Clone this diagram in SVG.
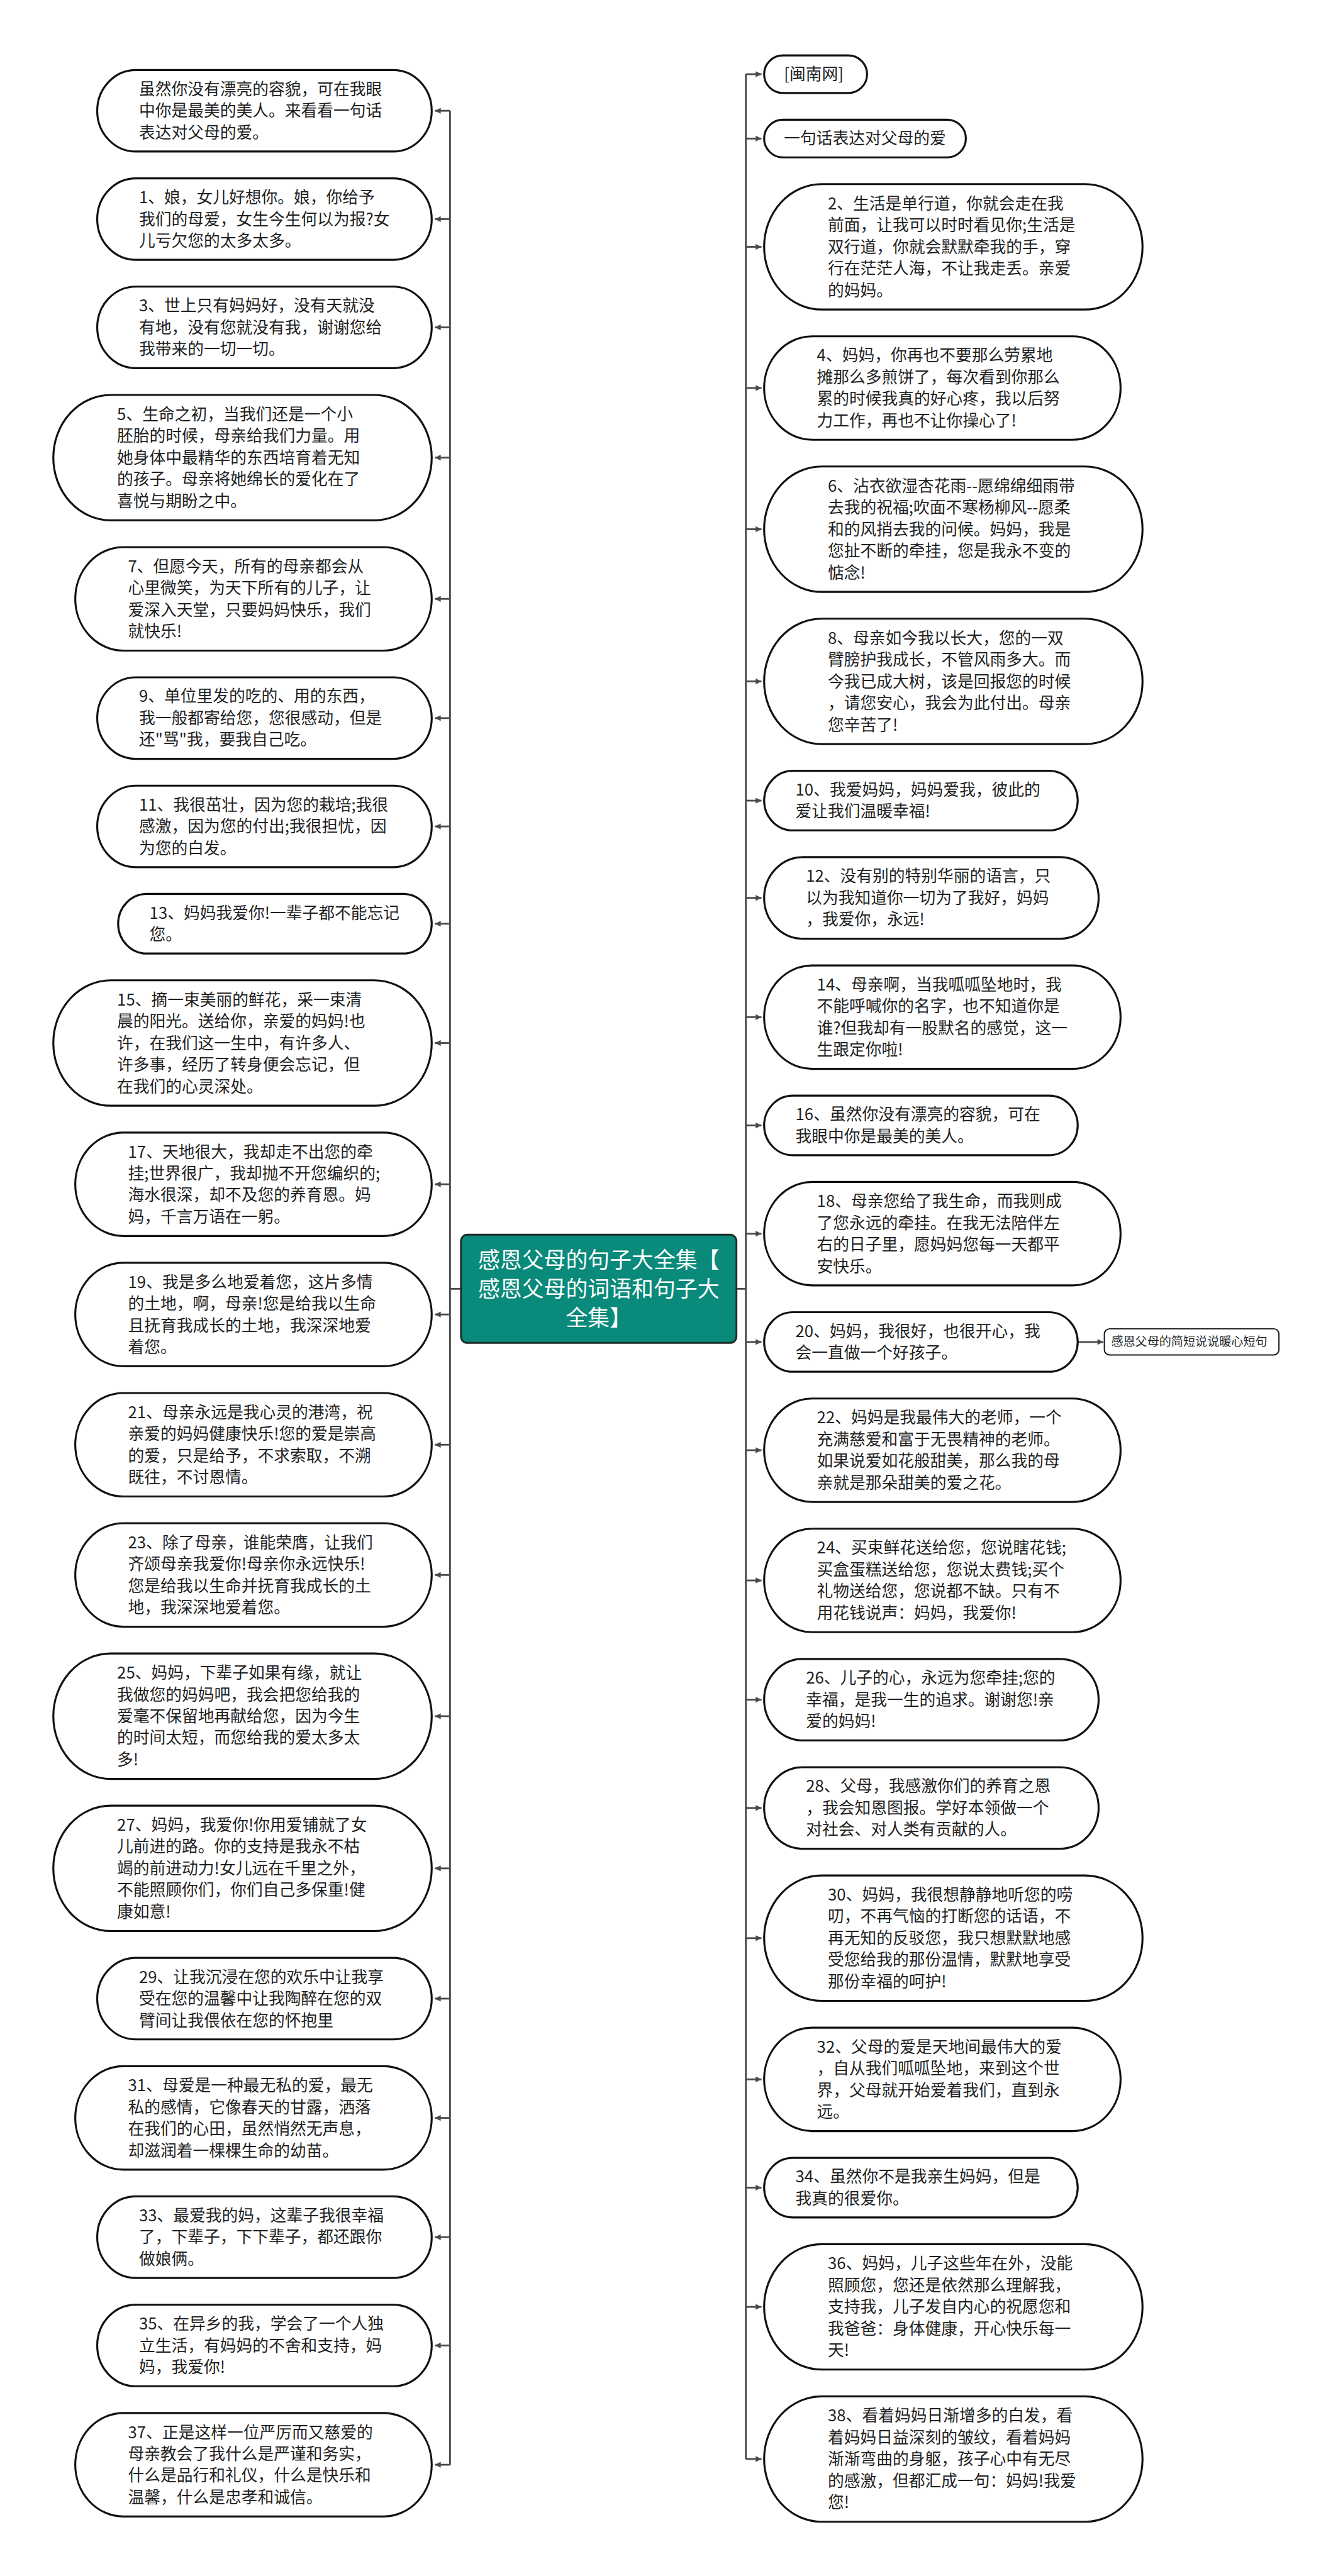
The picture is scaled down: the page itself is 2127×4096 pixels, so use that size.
<svg xmlns="http://www.w3.org/2000/svg" width="2127" height="4096" viewBox="0 0 2127 4096">
<defs>
<style>
.n{fill:#fff;stroke:#111;stroke-width:3.8}
.t{font-family:"Noto Sans CJK SC","Noto Sans",sans-serif;font-size:31px;fill:#1f1f1f}
.c{fill:none;stroke:#4a4a4a;stroke-width:3.4}
.s{font-family:"Noto Sans CJK SC","Noto Sans",sans-serif;font-size:23px;fill:#262626}
</style>
<marker id="ar" viewBox="0 0 10 10" refX="10" refY="5" markerWidth="3.8" markerHeight="3.3" orient="auto" markerUnits="strokeWidth">
<path d="M0,0 L10,5 L0,10 z" fill="#4a4a4a"/>
</marker>
</defs>
<rect width="2127" height="4096" fill="#fff"/>
<g transform="scale(0.83086)">
<g id="connectors">
<path class="c" d="M861,212 V4717"/>
<path class="c" d="M1427,142 V4706"/>
<path class="c" d="M882,2466.5 H861"/>
<path class="c" d="M1409,2466.5 H1427"/>
<g marker-end="url(#ar)">
<path class="c" d="M861,212 H832"/>
<path class="c" d="M861,419.3 H832"/>
<path class="c" d="M861,626.5 H832"/>
<path class="c" d="M861,875.8 H832"/>
<path class="c" d="M861,1146.1 H832"/>
<path class="c" d="M861,1374.3 H832"/>
<path class="c" d="M861,1581.6 H832"/>
<path class="c" d="M861,1767.8 H832"/>
<path class="c" d="M861,1996.1 H832"/>
<path class="c" d="M861,2266.4 H832"/>
<path class="c" d="M861,2515.6 H832"/>
<path class="c" d="M861,2764.9 H832"/>
<path class="c" d="M861,3014.1 H832"/>
<path class="c" d="M861,3284.4 H832"/>
<path class="c" d="M861,3575.6 H832"/>
<path class="c" d="M861,3824.9 H832"/>
<path class="c" d="M861,4053.2 H832"/>
<path class="c" d="M861,4281.4 H832"/>
<path class="c" d="M861,4488.7 H832"/>
<path class="c" d="M861,4716.9 H832"/>
<path class="c" d="M1427,142 H1457"/>
<path class="c" d="M1427,265.2 H1457"/>
<path class="c" d="M1427,472.4 H1457"/>
<path class="c" d="M1427,742.6 H1457"/>
<path class="c" d="M1427,1012.8 H1457"/>
<path class="c" d="M1427,1304 H1457"/>
<path class="c" d="M1427,1532.2 H1457"/>
<path class="c" d="M1427,1718.4 H1457"/>
<path class="c" d="M1427,1946.6 H1457"/>
<path class="c" d="M1427,2153.8 H1457"/>
<path class="c" d="M1427,2361 H1457"/>
<path class="c" d="M1427,2568.2 H1457"/>
<path class="c" d="M1427,2775.4 H1457"/>
<path class="c" d="M1427,3024.6 H1457"/>
<path class="c" d="M1427,3252.8 H1457"/>
<path class="c" d="M1427,3460 H1457"/>
<path class="c" d="M1427,3709.2 H1457"/>
<path class="c" d="M1427,3979.4 H1457"/>
<path class="c" d="M1427,4186.6 H1457"/>
<path class="c" d="M1427,4414.8 H1457"/>
<path class="c" d="M1427,4706 H1457"/>
<path class="c" d="M2062,2568.2 H2111"/>
</g>
</g>

<g id="root">
<rect x="882" y="2363" width="527" height="207" rx="12" fill="#0a8a7a" stroke="#1f2d2b" stroke-width="3.5"/>
<text font-family="'Noto Sans CJK SC','Noto Sans',sans-serif" font-size="42" fill="#fff" text-anchor="middle" x="1145.5" y="2427"><tspan x="1145.5">感恩父母的句子大全集【</tspan><tspan x="1145.5" dy="55">感恩父母的词语和句子大</tspan><tspan x="1145.5" dy="55">全集】</tspan></text>
</g>

<g id="L0"><rect class="n" x="186" y="134" width="640" height="156" rx="74" ry="78"/><text class="t" y="181.5"><tspan x="266">虽然你没有漂亮的容貌，可在我眼</tspan><tspan x="266" dy="41.5">中你是最美的美人。来看看一句话</tspan><tspan x="266" dy="41.5">表达对父母的爱。</tspan></text></g>
<g id="L1"><rect class="n" x="186" y="341.3" width="640" height="156" rx="74" ry="78"/><text class="t" y="388.8"><tspan x="266">1、娘，女儿好想你。娘，你给予</tspan><tspan x="266" dy="41.5">我们的母爱，女生今生何以为报?女</tspan><tspan x="266" dy="41.5">儿亏欠您的太多太多。</tspan></text></g>
<g id="L3"><rect class="n" x="186" y="548.5" width="640" height="156" rx="74" ry="78"/><text class="t" y="596"><tspan x="266">3、世上只有妈妈好，没有天就没</tspan><tspan x="266" dy="41.5">有地，没有您就没有我，谢谢您给</tspan><tspan x="266" dy="41.5">我带来的一切一切。</tspan></text></g>
<g id="L5"><rect class="n" x="102" y="755.8" width="724" height="240" rx="110" ry="120"/><text class="t" y="803.8"><tspan x="224">5、生命之初，当我们还是一个小</tspan><tspan x="224" dy="41.5">胚胎的时候，母亲给我们力量。用</tspan><tspan x="224" dy="41.5">她身体中最精华的东西培育着无知</tspan><tspan x="224" dy="41.5">的孩子。母亲将她绵长的爱化在了</tspan><tspan x="224" dy="41.5">喜悦与期盼之中。</tspan></text></g>
<g id="L7"><rect class="n" x="144" y="1047.1" width="682" height="198" rx="92" ry="99"/><text class="t" y="1094.9"><tspan x="245">7、但愿今天，所有的母亲都会从</tspan><tspan x="245" dy="41.5">心里微笑，为天下所有的儿子，让</tspan><tspan x="245" dy="41.5">爱深入天堂，只要妈妈快乐，我们</tspan><tspan x="245" dy="41.5">就快乐!</tspan></text></g>
<g id="L9"><rect class="n" x="186" y="1296.3" width="640" height="156" rx="74" ry="78"/><text class="t" y="1343.8"><tspan x="266">9、单位里发的吃的、用的东西，</tspan><tspan x="266" dy="41.5">我一般都寄给您，您很感动，但是</tspan><tspan x="266" dy="41.5">还"骂"我，要我自己吃。</tspan></text></g>
<g id="L11"><rect class="n" x="186" y="1503.6" width="640" height="156" rx="74" ry="78"/><text class="t" y="1551.1"><tspan x="266">11、我很茁壮，因为您的栽培;我很</tspan><tspan x="266" dy="41.5">感激，因为您的付出;我很担忧，因</tspan><tspan x="266" dy="41.5">为您的白发。</tspan></text></g>
<g id="L13"><rect class="n" x="226" y="1710.8" width="600" height="114" rx="55" ry="57"/><text class="t" y="1758.1"><tspan x="286">13、妈妈我爱你!一辈子都不能忘记</tspan><tspan x="286" dy="41.5">您。</tspan></text></g>
<g id="L15"><rect class="n" x="102" y="1876.1" width="724" height="240" rx="110" ry="120"/><text class="t" y="1924.1"><tspan x="224">15、摘一束美丽的鲜花，采一束清</tspan><tspan x="224" dy="41.5">晨的阳光。送给你，亲爱的妈妈!也</tspan><tspan x="224" dy="41.5">许，在我们这一生中，有许多人、</tspan><tspan x="224" dy="41.5">许多事，经历了转身便会忘记，但</tspan><tspan x="224" dy="41.5">在我们的心灵深处。</tspan></text></g>
<g id="L17"><rect class="n" x="144" y="2167.4" width="682" height="198" rx="92" ry="99"/><text class="t" y="2215.2"><tspan x="245">17、天地很大，我却走不出您的牵</tspan><tspan x="245" dy="41.5">挂;世界很广，我却抛不开您编织的;</tspan><tspan x="245" dy="41.5">海水很深，却不及您的养育恩。妈</tspan><tspan x="245" dy="41.5">妈，千言万语在一躬。</tspan></text></g>
<g id="L19"><rect class="n" x="144" y="2416.6" width="682" height="198" rx="92" ry="99"/><text class="t" y="2464.4"><tspan x="245">19、我是多么地爱着您，这片多情</tspan><tspan x="245" dy="41.5">的土地，啊，母亲!您是给我以生命</tspan><tspan x="245" dy="41.5">且抚育我成长的土地，我深深地爱</tspan><tspan x="245" dy="41.5">着您。</tspan></text></g>
<g id="L21"><rect class="n" x="144" y="2665.9" width="682" height="198" rx="92" ry="99"/><text class="t" y="2713.7"><tspan x="245">21、母亲永远是我心灵的港湾，祝</tspan><tspan x="245" dy="41.5">亲爱的妈妈健康快乐!您的爱是崇高</tspan><tspan x="245" dy="41.5">的爱，只是给予，不求索取，不溯</tspan><tspan x="245" dy="41.5">既往，不讨恩情。</tspan></text></g>
<g id="L23"><rect class="n" x="144" y="2915.1" width="682" height="198" rx="92" ry="99"/><text class="t" y="2962.9"><tspan x="245">23、除了母亲，谁能荣膺，让我们</tspan><tspan x="245" dy="41.5">齐颂母亲我爱你!母亲你永远快乐!</tspan><tspan x="245" dy="41.5">您是给我以生命并抚育我成长的土</tspan><tspan x="245" dy="41.5">地，我深深地爱着您。</tspan></text></g>
<g id="L25"><rect class="n" x="102" y="3164.4" width="724" height="240" rx="110" ry="120"/><text class="t" y="3212.4"><tspan x="224">25、妈妈，下辈子如果有缘，就让</tspan><tspan x="224" dy="41.5">我做您的妈妈吧，我会把您给我的</tspan><tspan x="224" dy="41.5">爱毫不保留地再献给您，因为今生</tspan><tspan x="224" dy="41.5">的时间太短，而您给我的爱太多太</tspan><tspan x="224" dy="41.5">多!</tspan></text></g>
<g id="L27"><rect class="n" x="102" y="3455.6" width="724" height="240" rx="110" ry="120"/><text class="t" y="3503.6"><tspan x="224">27、妈妈，我爱你!你用爱铺就了女</tspan><tspan x="224" dy="41.5">儿前进的路。你的支持是我永不枯</tspan><tspan x="224" dy="41.5">竭的前进动力!女儿远在千里之外，</tspan><tspan x="224" dy="41.5">不能照顾你们，你们自己多保重!健</tspan><tspan x="224" dy="41.5">康如意!</tspan></text></g>
<g id="L29"><rect class="n" x="186" y="3746.9" width="640" height="156" rx="74" ry="78"/><text class="t" y="3794.4"><tspan x="266">29、让我沉浸在您的欢乐中让我享</tspan><tspan x="266" dy="41.5">受在您的温馨中让我陶醉在您的双</tspan><tspan x="266" dy="41.5">臂间让我偎依在您的怀抱里</tspan></text></g>
<g id="L31"><rect class="n" x="144" y="3954.2" width="682" height="198" rx="92" ry="99"/><text class="t" y="4002"><tspan x="245">31、母爱是一种最无私的爱，最无</tspan><tspan x="245" dy="41.5">私的感情，它像春天的甘露，洒落</tspan><tspan x="245" dy="41.5">在我们的心田，虽然悄然无声息，</tspan><tspan x="245" dy="41.5">却滋润着一棵棵生命的幼苗。</tspan></text></g>
<g id="L33"><rect class="n" x="186" y="4203.4" width="640" height="156" rx="74" ry="78"/><text class="t" y="4250.9"><tspan x="266">33、最爱我的妈，这辈子我很幸福</tspan><tspan x="266" dy="41.5">了，下辈子，下下辈子，都还跟你</tspan><tspan x="266" dy="41.5">做娘俩。</tspan></text></g>
<g id="L35"><rect class="n" x="186" y="4410.7" width="640" height="156" rx="74" ry="78"/><text class="t" y="4458.2"><tspan x="266">35、在异乡的我，学会了一个人独</tspan><tspan x="266" dy="41.5">立生活，有妈妈的不舍和支持，妈</tspan><tspan x="266" dy="41.5">妈，我爱你!</tspan></text></g>
<g id="L37"><rect class="n" x="144" y="4617.9" width="682" height="198" rx="92" ry="99"/><text class="t" y="4665.7"><tspan x="245">37、正是这样一位严厉而又慈爱的</tspan><tspan x="245" dy="41.5">母亲教会了我什么是严谨和务实，</tspan><tspan x="245" dy="41.5">什么是品行和礼仪，什么是快乐和</tspan><tspan x="245" dy="41.5">温馨，什么是忠孝和诚信。</tspan></text></g>

<g id="RM"><rect class="n" x="1462" y="106" width="197" height="72" rx="36" ry="36"/><text class="t" y="153"><tspan x="1500">[闽南网]</tspan></text></g>
<g id="RY"><rect class="n" x="1462" y="229.2" width="386" height="72" rx="36" ry="36"/><text class="t" y="276.2"><tspan x="1500">一句话表达对父母的爱</tspan></text></g>
<g id="R2"><rect class="n" x="1462" y="352.4" width="724" height="240" rx="110" ry="120"/><text class="t" y="400.4"><tspan x="1584">2、生活是单行道，你就会走在我</tspan><tspan x="1584" dy="41.5">前面，让我可以时时看见你;生活是</tspan><tspan x="1584" dy="41.5">双行道，你就会默默牵我的手，穿</tspan><tspan x="1584" dy="41.5">行在茫茫人海，不让我走丢。亲爱</tspan><tspan x="1584" dy="41.5">的妈妈。</tspan></text></g>
<g id="R4"><rect class="n" x="1462" y="643.6" width="682" height="198" rx="92" ry="99"/><text class="t" y="691.4"><tspan x="1563">4、妈妈，你再也不要那么劳累地</tspan><tspan x="1563" dy="41.5">摊那么多煎饼了，每次看到你那么</tspan><tspan x="1563" dy="41.5">累的时候我真的好心疼，我以后努</tspan><tspan x="1563" dy="41.5">力工作，再也不让你操心了!</tspan></text></g>
<g id="R6"><rect class="n" x="1462" y="892.8" width="724" height="240" rx="110" ry="120"/><text class="t" y="940.8"><tspan x="1584">6、沾衣欲湿杏花雨--愿绵绵细雨带</tspan><tspan x="1584" dy="41.5">去我的祝福;吹面不寒杨柳风--愿柔</tspan><tspan x="1584" dy="41.5">和的风捎去我的问候。妈妈，我是</tspan><tspan x="1584" dy="41.5">您扯不断的牵挂，您是我永不变的</tspan><tspan x="1584" dy="41.5">惦念!</tspan></text></g>
<g id="R8"><rect class="n" x="1462" y="1184" width="724" height="240" rx="110" ry="120"/><text class="t" y="1232"><tspan x="1584">8、母亲如今我以长大，您的一双</tspan><tspan x="1584" dy="41.5">臂膀护我成长，不管风雨多大。而</tspan><tspan x="1584" dy="41.5">今我已成大树，该是回报您的时候</tspan><tspan x="1584" dy="41.5">，请您安心，我会为此付出。母亲</tspan><tspan x="1584" dy="41.5">您辛苦了!</tspan></text></g>
<g id="R10"><rect class="n" x="1462" y="1475.2" width="600" height="114" rx="55" ry="57"/><text class="t" y="1522.5"><tspan x="1522">10、我爱妈妈，妈妈爱我，彼此的</tspan><tspan x="1522" dy="41.5">爱让我们温暖幸福!</tspan></text></g>
<g id="R12"><rect class="n" x="1462" y="1640.4" width="640" height="156" rx="74" ry="78"/><text class="t" y="1687.9"><tspan x="1542">12、没有别的特别华丽的语言，只</tspan><tspan x="1542" dy="41.5">以为我知道你一切为了我好，妈妈</tspan><tspan x="1542" dy="41.5">，我爱你，永远!</tspan></text></g>
<g id="R14"><rect class="n" x="1462" y="1847.6" width="682" height="198" rx="92" ry="99"/><text class="t" y="1895.4"><tspan x="1563">14、母亲啊，当我呱呱坠地时，我</tspan><tspan x="1563" dy="41.5">不能呼喊你的名字，也不知道你是</tspan><tspan x="1563" dy="41.5">谁?但我却有一股默名的感觉，这一</tspan><tspan x="1563" dy="41.5">生跟定你啦!</tspan></text></g>
<g id="R16"><rect class="n" x="1462" y="2096.8" width="600" height="114" rx="55" ry="57"/><text class="t" y="2144.1"><tspan x="1522">16、虽然你没有漂亮的容貌，可在</tspan><tspan x="1522" dy="41.5">我眼中你是最美的美人。</tspan></text></g>
<g id="R18"><rect class="n" x="1462" y="2262" width="682" height="198" rx="92" ry="99"/><text class="t" y="2309.8"><tspan x="1563">18、母亲您给了我生命，而我则成</tspan><tspan x="1563" dy="41.5">了您永远的牵挂。在我无法陪伴左</tspan><tspan x="1563" dy="41.5">右的日子里，愿妈妈您每一天都平</tspan><tspan x="1563" dy="41.5">安快乐。</tspan></text></g>
<g id="R20"><rect class="n" x="1462" y="2511.2" width="600" height="114" rx="55" ry="57"/><text class="t" y="2558.5"><tspan x="1522">20、妈妈，我很好，也很开心，我</tspan><tspan x="1522" dy="41.5">会一直做一个好孩子。</tspan></text></g>
<g id="R20a"><rect x="2113" y="2543" width="334" height="50" rx="10" fill="#fff" stroke="#1c1c1c" stroke-width="2.4"/><text class="s" x="2126" y="2576">感恩父母的简短说说暖心短句</text></g>
<g id="R22"><rect class="n" x="1462" y="2676.4" width="682" height="198" rx="92" ry="99"/><text class="t" y="2724.2"><tspan x="1563">22、妈妈是我最伟大的老师，一个</tspan><tspan x="1563" dy="41.5">充满慈爱和富于无畏精神的老师。</tspan><tspan x="1563" dy="41.5">如果说爱如花般甜美，那么我的母</tspan><tspan x="1563" dy="41.5">亲就是那朵甜美的爱之花。</tspan></text></g>
<g id="R24"><rect class="n" x="1462" y="2925.6" width="682" height="198" rx="92" ry="99"/><text class="t" y="2973.4"><tspan x="1563">24、买束鲜花送给您，您说瞎花钱;</tspan><tspan x="1563" dy="41.5">买盒蛋糕送给您，您说太费钱;买个</tspan><tspan x="1563" dy="41.5">礼物送给您，您说都不缺。只有不</tspan><tspan x="1563" dy="41.5">用花钱说声：妈妈，我爱你!</tspan></text></g>
<g id="R26"><rect class="n" x="1462" y="3174.8" width="640" height="156" rx="74" ry="78"/><text class="t" y="3222.3"><tspan x="1542">26、儿子的心，永远为您牵挂;您的</tspan><tspan x="1542" dy="41.5">幸福，是我一生的追求。谢谢您!亲</tspan><tspan x="1542" dy="41.5">爱的妈妈!</tspan></text></g>
<g id="R28"><rect class="n" x="1462" y="3382" width="640" height="156" rx="74" ry="78"/><text class="t" y="3429.5"><tspan x="1542">28、父母，我感激你们的养育之恩</tspan><tspan x="1542" dy="41.5">，我会知恩图报。学好本领做一个</tspan><tspan x="1542" dy="41.5">对社会、对人类有贡献的人。</tspan></text></g>
<g id="R30"><rect class="n" x="1462" y="3589.2" width="724" height="240" rx="110" ry="120"/><text class="t" y="3637.2"><tspan x="1584">30、妈妈，我很想静静地听您的唠</tspan><tspan x="1584" dy="41.5">叨，不再气恼的打断您的话语，不</tspan><tspan x="1584" dy="41.5">再无知的反驳您，我只想默默地感</tspan><tspan x="1584" dy="41.5">受您给我的那份温情，默默地享受</tspan><tspan x="1584" dy="41.5">那份幸福的呵护!</tspan></text></g>
<g id="R32"><rect class="n" x="1462" y="3880.4" width="682" height="198" rx="92" ry="99"/><text class="t" y="3928.2"><tspan x="1563">32、父母的爱是天地间最伟大的爱</tspan><tspan x="1563" dy="41.5">，自从我们呱呱坠地，来到这个世</tspan><tspan x="1563" dy="41.5">界，父母就开始爱着我们，直到永</tspan><tspan x="1563" dy="41.5">远。</tspan></text></g>
<g id="R34"><rect class="n" x="1462" y="4129.6" width="600" height="114" rx="55" ry="57"/><text class="t" y="4176.9"><tspan x="1522">34、虽然你不是我亲生妈妈，但是</tspan><tspan x="1522" dy="41.5">我真的很爱你。</tspan></text></g>
<g id="R36"><rect class="n" x="1462" y="4294.8" width="724" height="240" rx="110" ry="120"/><text class="t" y="4342.8"><tspan x="1584">36、妈妈，儿子这些年在外，没能</tspan><tspan x="1584" dy="41.5">照顾您，您还是依然那么理解我，</tspan><tspan x="1584" dy="41.5">支持我，儿子发自内心的祝愿您和</tspan><tspan x="1584" dy="41.5">我爸爸：身体健康，开心快乐每一</tspan><tspan x="1584" dy="41.5">天!</tspan></text></g>
<g id="R38"><rect class="n" x="1462" y="4586" width="724" height="240" rx="110" ry="120"/><text class="t" y="4634"><tspan x="1584">38、看着妈妈日渐增多的白发，看</tspan><tspan x="1584" dy="41.5">着妈妈日益深刻的皱纹，看着妈妈</tspan><tspan x="1584" dy="41.5">渐渐弯曲的身躯，孩子心中有无尽</tspan><tspan x="1584" dy="41.5">的感激，但都汇成一句：妈妈!我爱</tspan><tspan x="1584" dy="41.5">您!</tspan></text></g>
</g>
</svg>
